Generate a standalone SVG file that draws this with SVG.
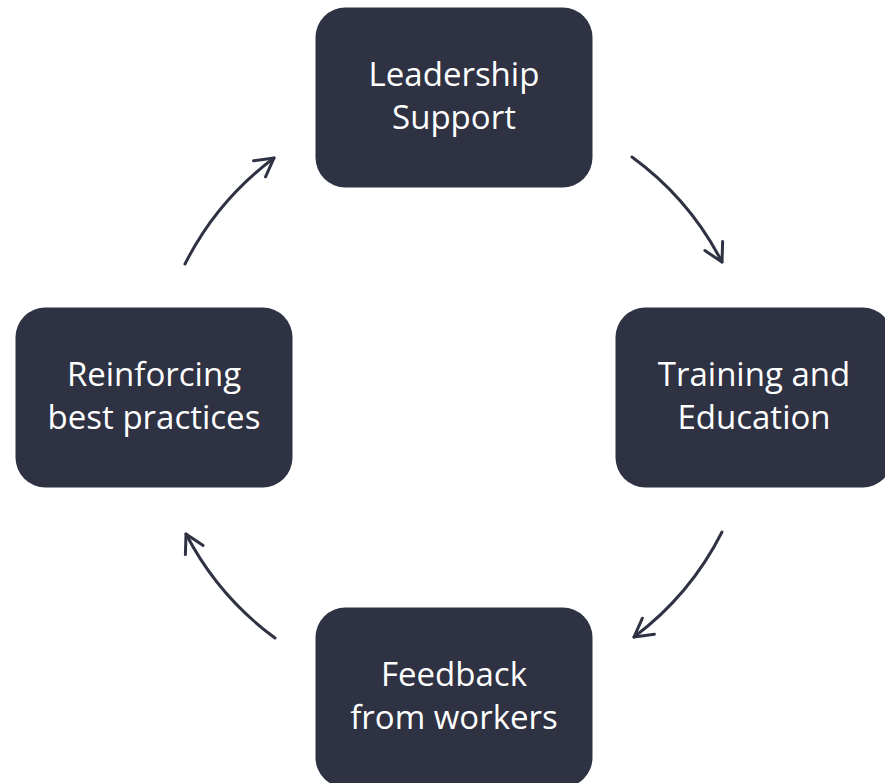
<svg xmlns="http://www.w3.org/2000/svg" width="885" height="783" viewBox="0 0 885 783">
<style>
.box{fill:#2e3243}
.lbl{fill:#ffffff;font-family:"Open Sans","Liberation Sans",sans-serif;font-size:33px;text-anchor:middle}
.arc{fill:none;stroke:#2e3243;stroke-width:3;stroke-linecap:round}
</style>
<defs>
<marker id="head" markerUnits="userSpaceOnUse" markerWidth="40" markerHeight="40" refX="0" refY="0" viewBox="-20 -20 40 40" orient="auto" overflow="visible">
<path d="M -18 -10 L 0 0 L -18 10" fill="none" stroke="#2e3243" stroke-width="3" stroke-linecap="round" stroke-linejoin="round"/>
</marker>
</defs>
<rect width="885" height="783" fill="#ffffff"/>
<g id="connectors">
<path class="arc" marker-end="url(#head)" d="M 632 157 A 300 300 0 0 1 722 262"/>
<path class="arc" marker-end="url(#head)" d="M 722 532 A 300 300 0 0 1 634 637"/>
<path class="arc" marker-end="url(#head)" d="M 275 638 A 300 300 0 0 1 186 534"/>
<path class="arc" marker-end="url(#head)" d="M 185 264 A 300 300 0 0 1 274 158"/>
</g>
<g id="leadership">
<rect class="box" x="315.5" y="7.5" width="277" height="180" rx="30"/>
<text class="lbl" x="454" y="86">Leadership</text>
<text class="lbl" x="454" y="128.5">Support</text>
</g>
<g id="training">
<rect class="box" x="615.5" y="307.5" width="277" height="180" rx="30"/>
<text class="lbl" x="754" y="386">Training and</text>
<text class="lbl" x="754" y="428.5">Education</text>
</g>
<g id="feedback">
<rect class="box" x="315.5" y="607.5" width="277" height="180" rx="30"/>
<text class="lbl" x="454" y="686">Feedback</text>
<text class="lbl" x="454" y="728.5">from workers</text>
</g>
<g id="reinforcing">
<rect class="box" x="15.5" y="307.5" width="277" height="180" rx="30"/>
<text class="lbl" x="154" y="386">Reinforcing</text>
<text class="lbl" x="154" y="428.5">best practices</text>
</g>
</svg>
